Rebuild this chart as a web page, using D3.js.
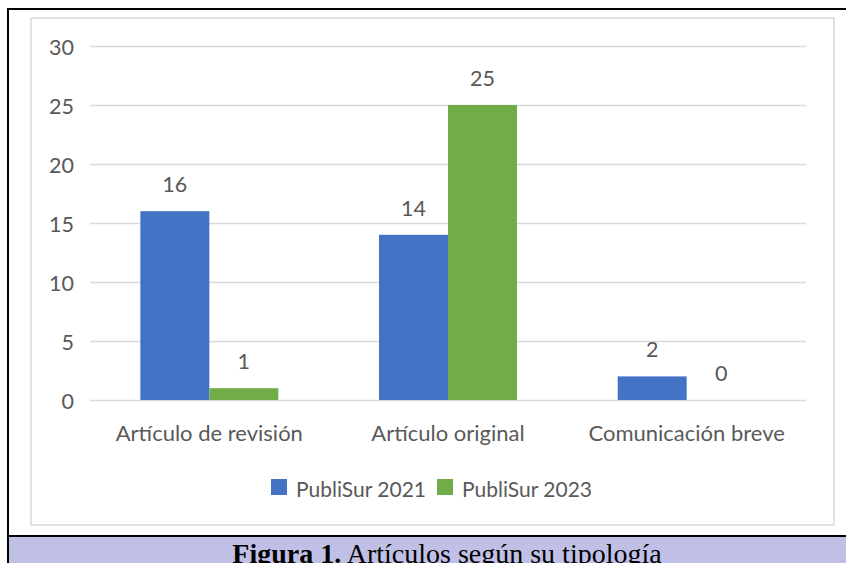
<!DOCTYPE html>
<html>
<head>
<meta charset="utf-8">
<script src="https://cdn.jsdelivr.net/npm/d3@7"></script>
<style>
  body { margin: 0; background: #fff; }
  svg { display: block; }
  text { font-family: Lato, "Open Sans", sans-serif; fill: #595959; }
  .caption { font-family: "Liberation Serif", "Times New Roman", serif; fill: #000; }
</style>
</head>
<body>
<svg id="chart" width="846" height="563"></svg>
<script>
// data
const categories = ['Artículo de revisión', 'Artículo original', 'Comunicación breve'];
const seriesNames = ['PubliSur 2021', 'PubliSur 2023'];
const publisur2021 = [16, 14, 2];
const publisur2023 = [1, 25, 0];
const yTicks = [0, 5, 10, 15, 20, 25, 30];
const colors = ['#4472C4', '#70AD47'];

const width = 846, height = 563;
const margin = { top: 46, right: 40, bottom: 163, left: 90 };
const innerWidth = width - margin.left - margin.right;
const innerHeight = height - margin.top - margin.bottom;

const svg = d3.select('#chart');

svg.append('rect').attr('width', width).attr('height', height).attr('fill', '#fff');

// caption band
svg.append('rect')
  .attr('x', 8).attr('y', 537)
  .attr('width', width - 8).attr('height', height - 537)
  .attr('fill', '#C0C0E6');

// outer black frame
svg.append('line').attr('x1', 8).attr('x2', 8).attr('y1', 8).attr('y2', height)
  .attr('stroke', '#000').attr('stroke-width', 2);
svg.append('line').attr('x1', 7).attr('x2', width).attr('y1', 9).attr('y2', 9)
  .attr('stroke', '#000').attr('stroke-width', 2);
svg.append('line').attr('x1', 7).attr('x2', width).attr('y1', 536).attr('y2', 536)
  .attr('stroke', '#000').attr('stroke-width', 2);

// chart area border
svg.append('rect')
  .attr('x', 31).attr('y', 18)
  .attr('width', 803).attr('height', 507)
  .attr('fill', 'none')
  .attr('stroke', '#D9D9D9').attr('stroke-width', 1.5);

const g = svg.append('g')
  .attr('transform', `translate(${margin.left},${margin.top})`);

const x0 = d3.scaleBand()
  .domain(categories)
  .range([0, innerWidth])
  .paddingInner(0.422)
  .paddingOuter(0.211);

const x1 = d3.scaleBand()
  .domain(seriesNames)
  .range([0, x0.bandwidth()]);

const yScale = d3.scaleLinear()
  .domain([0, 30])
  .range([innerHeight, 0]);

const yAxis = d3.axisLeft(yScale)
  .tickValues(yTicks)
  .tickSize(-innerWidth)
  .tickPadding(16);

const yAxisG = g.append('g').attr('class', 'yAxis').call(yAxis);
yAxisG.select('.domain').remove();
yAxisG.selectAll('.tick line').attr('stroke', '#D9D9D9').attr('stroke-width', 1.5);
yAxisG.selectAll('.tick text')
  .style('font-family', 'Lato, sans-serif')
  .style('font-size', '21.5px')
  .attr('dy', '0.4em')
  .attr('fill', '#595959');

const xAxis = d3.axisBottom(x0).tickSize(0).tickPadding(0);
const xAxisG = g.append('g').attr('class', 'xAxis')
  .attr('transform', `translate(0,${innerHeight})`)
  .call(xAxis);
xAxisG.select('.domain').remove();
xAxisG.selectAll('.tick text')
  .attr('dy', null)
  .attr('y', 41)
  .style('font-family', 'Lato, sans-serif')
  .style('font-size', '22px')
  .attr('fill', '#595959');

// bars
const rows = categories.map((c, i) => ({
  key: c,
  values: [
    { series: seriesNames[0], value: publisur2021[i], color: colors[0] },
    { series: seriesNames[1], value: publisur2023[i], color: colors[1] }
  ]
}));

const groups = g.selectAll('.group').data(rows).enter().append('g')
  .attr('class', 'group')
  .attr('transform', d => `translate(${x0(d.key)},0)`);

groups.selectAll('rect').data(d => d.values).enter().append('rect')
  .attr('x', d => x1(d.series))
  .attr('width', x1.bandwidth())
  .attr('y', d => yScale(d.value))
  .attr('height', d => innerHeight - yScale(d.value))
  .attr('fill', d => d.color);

groups.selectAll('.label').data(d => d.values).enter().append('text')
  .attr('class', 'label')
  .attr('x', d => x1(d.series) + x1.bandwidth() / 2)
  .attr('y', d => yScale(d.value) - 19)
  .attr('text-anchor', 'middle')
  .style('font-size', '21.5px')
  .text(d => d.value);

// legend
const legend = svg.append('g').attr('transform', 'translate(271,479)');
const legendX = [0, 166];
seriesNames.forEach((s, i) => {
  const item = legend.append('g').attr('transform', `translate(${legendX[i]},0)`);
  item.append('rect').attr('width', 16).attr('height', 16).attr('fill', colors[i]);
  item.append('text').attr('x', 25).attr('y', 18)
    .style('font-size', '21px').text(s);
});

// caption
const cap = svg.append('text')
  .attr('class', 'caption')
  .attr('x', 447).attr('y', 563)
  .attr('text-anchor', 'middle')
  .style('font-size', '28px');
cap.append('tspan').attr('font-weight', 'bold').text('Figura 1.');
cap.append('tspan').text(' Artículos según su tipología');
</script>
</body>
</html>
